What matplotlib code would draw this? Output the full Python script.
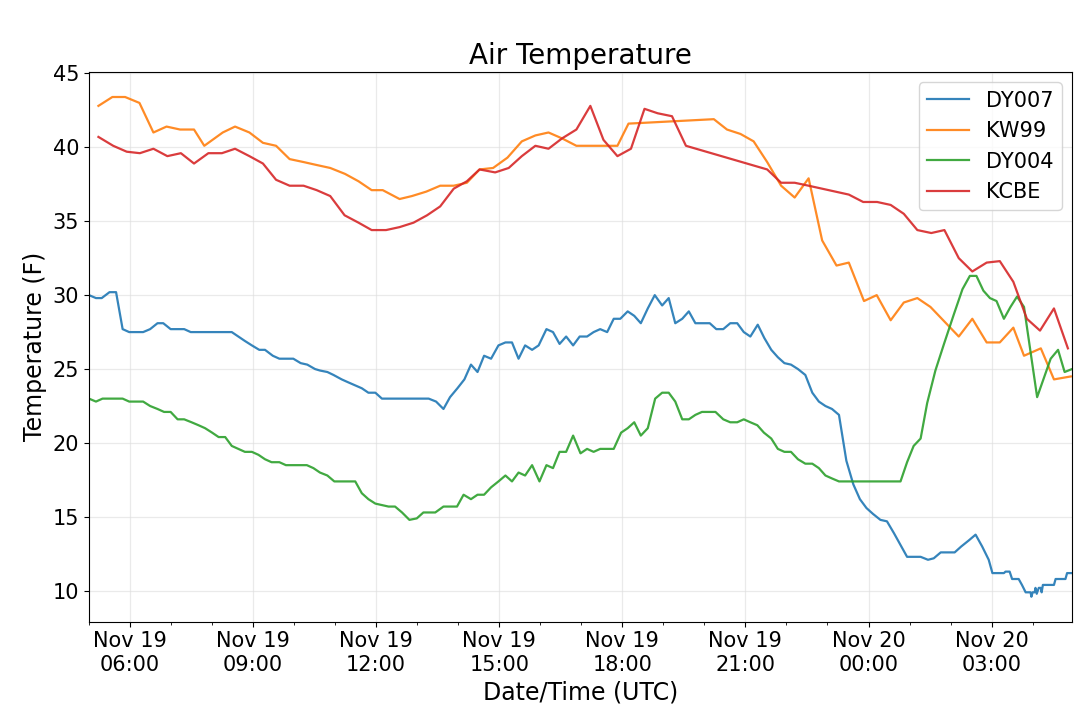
import numpy as np
import pandas as pd
import matplotlib
matplotlib.use('Agg')
import matplotlib.pyplot as plt
import matplotlib.dates as mdates

# uren na Nov 19 00:00 UTC en temperatuur (F) per station
dy007_uur = [5.0, 5.17, 5.31, 5.5, 5.66, 5.82, 5.98, 6.32, 6.49, 6.67, 6.81, 6.99, 7.32, 7.48, 8.48,
             8.8, 8.97, 9.15, 9.29, 9.48, 9.64, 9.98, 10.16, 10.32, 10.51, 10.63, 10.81, 10.96, 11.16,
             11.32, 11.65, 11.81, 11.98, 12.14, 13.28, 13.46, 13.64, 13.8, 13.98, 14.15, 14.31, 14.47,
             14.63, 14.8, 14.98, 15.15, 15.31, 15.47, 15.63, 15.8, 15.96, 16.15, 16.31, 16.47, 16.63,
             16.8, 16.96, 17.14, 17.3, 17.46, 17.63, 17.79, 17.95, 18.13, 18.29, 18.45, 18.62, 18.79,
             18.97, 19.13, 19.29, 19.46, 19.62, 19.78, 20.13, 20.29, 20.46, 20.63, 20.8, 20.96, 21.12,
             21.3, 21.46, 21.63, 21.79, 21.95, 22.11, 22.28, 22.46, 22.63, 22.79, 22.95, 23.11, 23.28,
             23.46, 23.63, 23.79, 23.95, 24.11, 24.29, 24.45, 24.62, 24.78, 24.94, 25.27, 25.45, 25.59,
             25.76, 26.1, 26.26, 26.44, 26.61, 26.77, 26.93, 27.02, 27.3, 27.34, 27.44, 27.5, 27.66,
             27.74, 27.83, 27.95, 27.97, 28.0, 28.05, 28.07, 28.1, 28.15, 28.2, 28.22, 28.25, 28.52,
             28.56, 28.8, 28.84, 28.96]
dy007_temp = [30.0, 29.8, 29.8, 30.2, 30.2, 27.7, 27.5, 27.5, 27.7, 28.1, 28.1, 27.7, 27.7, 27.5, 27.5,
              26.9, 26.6, 26.3, 26.3, 25.9, 25.7, 25.7, 25.4, 25.3, 25.0, 24.9, 24.8, 24.6, 24.3,
              24.1, 23.7, 23.4, 23.4, 23.0, 23.0, 22.8, 22.3, 23.1, 23.7, 24.3, 25.3, 24.8,
              25.9, 25.7, 26.6, 26.8, 26.8, 25.7, 26.6, 26.3, 26.6, 27.7, 27.5, 26.7, 27.2,
              26.6, 27.2, 27.2, 27.5, 27.7, 27.5, 28.4, 28.4, 28.9, 28.6, 28.1, 29.1, 30.0,
              29.3, 29.8, 28.1, 28.4, 28.9, 28.1, 28.1, 27.7, 27.7, 28.1, 28.1, 27.5, 27.2,
              28.0, 27.1, 26.3, 25.8, 25.4, 25.3, 25.0, 24.6, 23.4, 22.8, 22.5, 22.3, 21.9,
              18.8, 17.2, 16.2, 15.6, 15.2, 14.8, 14.7, 13.9, 13.1, 12.3, 12.3, 12.1, 12.2,
              12.6, 12.6, 13.0, 13.4, 13.8, 13.0, 12.1, 11.2, 11.2, 11.3, 11.3, 10.8, 10.8,
              10.4, 9.9, 9.9, 9.6, 9.9, 9.9, 10.2, 9.8, 10.2, 10.2, 9.9, 10.4, 10.4,
              10.8, 10.8, 11.2, 11.2]

kw99_uur = [5.23, 5.57, 5.88, 6.23, 6.57, 6.89, 7.22, 7.56, 7.81, 8.26, 8.56, 8.91, 9.24, 9.56, 9.89,
            10.23, 10.55, 10.88, 11.24, 11.57, 11.89, 12.16, 12.57, 12.87, 13.22, 13.56, 13.89, 14.21,
            14.52, 14.85, 15.2, 15.55, 15.88, 16.2, 16.53, 16.88, 17.88, 18.15, 20.23, 20.55, 20.88,
            21.2, 21.53, 21.87, 22.2, 22.54, 22.87, 23.22, 23.52, 23.89, 24.2, 24.54, 24.86, 25.19,
            25.51, 26.2, 26.53, 26.88, 27.2, 27.53, 27.79, 28.2, 28.52, 28.93]
kw99_temp = [42.8, 43.4, 43.4, 43.0, 41.0, 41.4, 41.2, 41.2, 40.1, 41.0, 41.4, 41.0, 40.3, 40.1, 39.2,
             39.0, 38.8, 38.6, 38.2, 37.7, 37.1, 37.1, 36.5, 36.7, 37.0, 37.4, 37.4, 37.6,
             38.5, 38.6, 39.3, 40.4, 40.8, 41.0, 40.6, 40.1, 40.1, 41.6, 41.9, 41.2, 40.9,
             40.4, 39.0, 37.4, 36.6, 37.9, 33.7, 32.0, 32.2, 29.6, 30.0, 28.3, 29.5, 29.8,
             29.2, 27.2, 28.4, 26.8, 26.8, 27.8, 25.9, 26.4, 24.3, 24.5]

dy004_uur = [5.0, 5.17, 5.33, 5.82, 5.98, 6.32, 6.49, 6.67, 6.83, 6.99, 7.16, 7.32, 7.5, 7.67, 7.83,
             8.0, 8.16, 8.32, 8.48, 8.64, 8.8, 8.97, 9.13, 9.29, 9.45, 9.64, 9.8, 10.31, 10.47, 10.63,
             10.81, 10.98, 11.49, 11.65, 11.81, 11.98, 12.14, 12.3, 12.46, 12.63, 12.81, 12.99, 13.15,
             13.44, 13.64, 13.97, 14.13, 14.31, 14.47, 14.63, 14.8, 14.98, 15.15, 15.31, 15.47, 15.63,
             15.8, 15.98, 16.15, 16.31, 16.47, 16.63, 16.8, 16.98, 17.14, 17.3, 17.46, 17.79, 17.97,
             18.13, 18.29, 18.45, 18.62, 18.8, 18.97, 19.13, 19.29, 19.46, 19.62, 19.78, 19.94, 20.27,
             20.46, 20.63, 20.8, 20.96, 21.12, 21.29, 21.45, 21.63, 21.79, 21.95, 22.11, 22.28, 22.46,
             22.63, 22.79, 22.95, 23.11, 23.28, 24.78, 24.94, 25.1, 25.27, 25.43, 25.63, 25.84, 26.08,
             26.29, 26.47, 26.63, 26.8, 26.96, 27.12, 27.3, 27.46, 27.62, 27.79, 28.11, 28.44, 28.62,
             28.78, 28.96]
dy004_temp = [23.0, 22.8, 23.0, 23.0, 22.8, 22.8, 22.5, 22.3, 22.1, 22.1, 21.6, 21.6, 21.4, 21.2, 21.0,
              20.7, 20.4, 20.4, 19.8, 19.6, 19.4, 19.4, 19.2, 18.9, 18.7, 18.7, 18.5, 18.5, 18.3, 18.0,
              17.8, 17.4, 17.4, 16.6, 16.2, 15.9, 15.8, 15.7, 15.7, 15.3, 14.8, 14.9, 15.3,
              15.3, 15.7, 15.7, 16.5, 16.2, 16.5, 16.5, 17.0, 17.4, 17.8, 17.4, 18.0, 17.8,
              18.5, 17.4, 18.5, 18.3, 19.4, 19.4, 20.5, 19.3, 19.6, 19.4, 19.6, 19.6, 20.7,
              21.0, 21.4, 20.5, 21.0, 23.0, 23.4, 23.4, 22.8, 21.6, 21.6, 21.9, 22.1, 22.1,
              21.6, 21.4, 21.4, 21.6, 21.4, 21.2, 20.7, 20.3, 19.6, 19.4, 19.4, 18.9, 18.6,
              18.6, 18.3, 17.8, 17.6, 17.4, 17.4, 18.7, 19.8, 20.3, 22.7, 24.9, 26.7, 28.7,
              30.4, 31.3, 31.3, 30.3, 29.8, 29.6, 28.4, 29.2, 29.9, 29.2, 23.1, 25.7, 26.3,
              24.8, 25.0]

kcbe_uur = [5.23, 5.59, 5.92, 6.24, 6.57, 6.91, 7.24, 7.56, 7.91, 8.24, 8.56, 8.91, 9.24, 9.56, 9.89,
            10.23, 10.55, 10.88, 11.23, 11.57, 11.89, 12.24, 12.57, 12.91, 13.24, 13.56, 13.89, 14.21,
            14.52, 14.9, 15.23, 15.55, 15.88, 16.2, 16.53, 16.88, 17.22, 17.54, 17.88, 18.21, 18.54,
            18.86, 19.21, 19.55, 21.53, 21.87, 22.2, 22.54, 23.52, 23.87, 24.21, 24.54, 24.86, 25.19,
            25.53, 25.85, 26.2, 26.53, 26.88, 27.2, 27.53, 27.86, 28.18, 28.52, 28.86]
kcbe_temp = [40.7, 40.1, 39.7, 39.6, 39.9, 39.4, 39.6, 38.9, 39.6, 39.6, 39.9, 39.4, 38.9, 37.8, 37.4,
             37.4, 37.1, 36.7, 35.4, 34.9, 34.4, 34.4, 34.6, 34.9, 35.4, 36.0, 37.2, 37.7,
             38.5, 38.3, 38.6, 39.4, 40.1, 39.9, 40.6, 41.2, 42.8, 40.5, 39.4, 39.9, 42.6,
             42.3, 42.1, 40.1, 38.5, 37.6, 37.6, 37.4, 36.8, 36.3, 36.3, 36.1, 35.5, 34.4,
             34.2, 34.4, 32.5, 31.6, 32.2, 32.3, 30.9, 28.4, 27.6, 29.1, 26.4]

stations = ['DY007', 'KW99', 'DY004', 'KCBE']
start = pd.Timestamp('2019-11-19 00:00')


def naar_tijd(uren):
    # uren omzetten naar datetime
    return start + pd.to_timedelta(np.array(uren), unit='h')


def plot_luchttemperatuur():
    fig = plt.figure(figsize=(10.8, 7.13), dpi=100)
    ax = fig.add_axes([0.0824, 0.128, 0.9102, 0.771])

    reeksen = [(dy007_uur, dy007_temp), (kw99_uur, kw99_temp),
               (dy004_uur, dy004_temp), (kcbe_uur, kcbe_temp)]
    alle_tijden = []
    for naam, (uren, temp) in zip(stations, reeksen):
        tijden = naar_tijd(uren)
        alle_tijden.extend(tijden)
        ax.plot(tijden, temp, label=naam, linewidth=1.6, alpha=0.9)

    ax.set_xlim(min(alle_tijden), max(alle_tijden))

    # x-as: elke 3 uur een label, elk uur een klein streepje
    ax.xaxis.set_major_locator(mdates.HourLocator(byhour=range(0, 24, 3)))
    ax.xaxis.set_minor_locator(mdates.HourLocator())
    ax.xaxis.set_major_formatter(mdates.DateFormatter('%b %d\n%H:%M'))
    ax.set_yticks([10, 15, 20, 25, 30, 35, 40, 45])

    ax.grid(True, color='#dddddd', linewidth=0.9, alpha=0.6)
    ax.tick_params(axis='both', labelsize=15)
    for label in ax.get_xticklabels():
        label.set_horizontalalignment('center')

    ax.set_title('Air Temperature', fontsize=20)
    ax.set_xlabel('Date/Time (UTC)', fontsize=17)
    ax.set_ylabel('Temperature (F)', fontsize=17)
    ax.legend(loc='upper right', fontsize=15)

    plt.savefig('out.png', dpi=100)
    plt.close()


plot_luchttemperatuur()
